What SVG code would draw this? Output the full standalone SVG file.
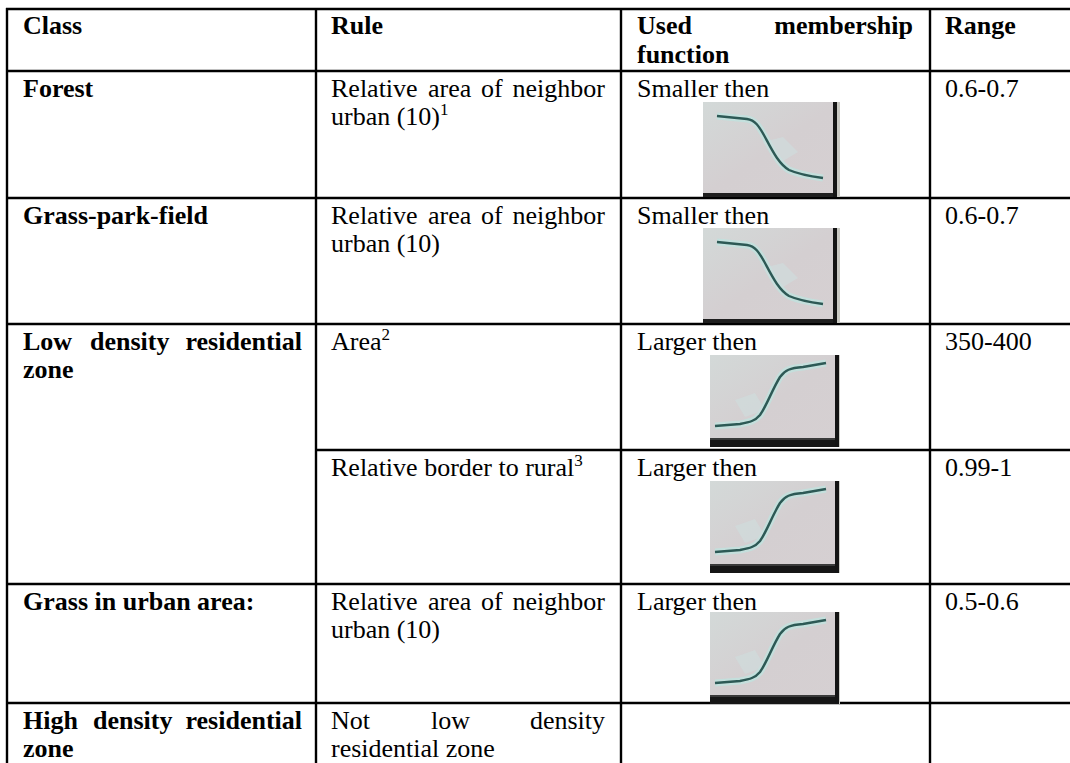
<svg xmlns="http://www.w3.org/2000/svg" xmlns:xlink="http://www.w3.org/1999/xlink" width="1070" height="763" viewBox="0 0 1070 763">
<style>
text{font-family:'Liberation Serif',serif;font-size:26px;fill:#000}
.b{font-weight:bold}
.sup{font-size:17px}
.grid line{stroke:#000;stroke-width:2.4}
.curve{fill:none;stroke:#2d5955;stroke-width:2.4;stroke-linejoin:round}
.glow{fill:none;stroke:#bfe2de;stroke-width:7;opacity:.8}
</style>
<defs>
<linearGradient id="bg" x1="0" y1="0" x2="1" y2="1">
<stop offset="0" stop-color="#d3d9d8"/>
<stop offset="0.5" stop-color="#d4cfd1"/>
<stop offset="1" stop-color="#d6d0d2"/>
</linearGradient>
<symbol id="mfSmaller" viewBox="0 0 137 95" width="137" height="95">
<rect width="137" height="95" fill="url(#bg)"/>
<path class="glow" d="M14,14 L44,17 C52,18 56,24 62,35 C70,50 76,62 86,68 C95,72 105,74 120,76"/>
<path d="M60,40 L80,35 L95,50 L75,62 Z" fill="#cfdede" opacity=".6"/>
<path class="curve" d="M14,14 L44,17 C52,18 56,24 62,35 C70,50 76,62 86,68 C95,72 105,74 120,76"/>
<rect x="0" y="91" width="131" height="4" fill="#1f1f1f"/>
<rect x="130" y="0" width="4" height="95" fill="#151515"/>
<rect x="134" y="0" width="3" height="95" fill="#c9c9c3"/>
</symbol>
<symbol id="mfLarger" viewBox="0 0 130 92" width="130" height="92">
<rect width="130" height="92" fill="url(#bg)"/>
<path class="glow" d="M5,71 L30,69 C40,67 45,66 50,60 C57,50 62,35 70,22 C75,15 80,13 93,12 L116,8"/>
<path d="M25,45 L45,38 L55,55 L35,62 Z" fill="#cfdede" opacity=".6"/>
<path class="curve" d="M5,71 L30,69 C40,67 45,66 50,60 C57,50 62,35 70,22 C75,15 80,13 93,12 L116,8"/>
<rect x="0" y="83" width="126" height="9" fill="#161616"/>
<rect x="0" y="83" width="126" height="2" fill="#3a3a3a"/>
<rect x="125" y="0" width="4" height="92" fill="#141414"/>
<rect x="129" y="0" width="1" height="92" fill="#cfcfca"/>
</symbol>
</defs>
<rect width="1070" height="763" fill="#fff"/>

<g id="grid" class="grid">
<line x1="6" y1="9" x2="1070" y2="9"/>
<line x1="7" y1="8" x2="7" y2="763"/>
<line x1="316" y1="8" x2="316" y2="763"/>
<line x1="621" y1="8" x2="621" y2="763"/>
<line x1="930" y1="8" x2="930" y2="763"/>
<line x1="6" y1="71" x2="1070" y2="71"/>
<line x1="6" y1="198" x2="1070" y2="198"/>
<line x1="6" y1="324" x2="1070" y2="324"/>
<line x1="316" y1="450" x2="1070" y2="450"/>
<line x1="6" y1="584" x2="1070" y2="584"/>
<line x1="6" y1="703" x2="1070" y2="703"/>
</g>

<g font-family="Liberation Serif, serif" font-size="26" fill="#000">
<g id="header">
<text class="b" x="23" y="34">Class</text>
<text class="b" x="331" y="34">Rule</text>
<text class="b" x="637" y="34">Used</text>
<text class="b" x="913" y="34" text-anchor="end">membership</text>
<text class="b" x="637" y="63">function</text>
<text class="b" x="945" y="34">Range</text>
</g>

<g id="row-forest">
<text class="b" x="23" y="97">Forest</text>
<text y="97"><tspan x="331">Relative</tspan><tspan x="428">area</tspan><tspan x="481">of</tspan></text>
<text x="605" y="97" text-anchor="end">neighbor</text>
<text x="331" y="125">urban (10)<tspan class="sup" dy="-10">1</tspan></text>
<text x="637" y="97">Smaller then</text>
<use xlink:href="#mfSmaller" x="703" y="102"/>
<text x="945" y="97">0.6-0.7</text>
</g>

<g id="row-grass-park-field">
<text class="b" x="23" y="224">Grass-park-field</text>
<text y="224"><tspan x="331">Relative</tspan><tspan x="428">area</tspan><tspan x="481">of</tspan></text>
<text x="605" y="224" text-anchor="end">neighbor</text>
<text x="331" y="252">urban (10)</text>
<text x="637" y="224">Smaller then</text>
<use xlink:href="#mfSmaller" x="703" y="228"/>
<text x="945" y="224">0.6-0.7</text>
</g>

<g id="row-low-density">
<text class="b" y="350"><tspan x="23">Low</tspan><tspan x="90">density</tspan></text>
<text class="b" x="302" y="350" text-anchor="end">residential</text>
<text class="b" x="23" y="378">zone</text>
<g id="rule-area">
<text x="331" y="350">Area<tspan class="sup" dy="-10">2</tspan></text>
<text x="637" y="350">Larger then</text>
<use xlink:href="#mfLarger" x="710" y="355"/>
<text x="945" y="350">350-400</text>
</g>
<g id="rule-border">
<text x="331" y="476">Relative border to rural<tspan class="sup" dy="-10">3</tspan></text>
<text x="637" y="476">Larger then</text>
<use xlink:href="#mfLarger" x="710" y="481"/>
<text x="945" y="476">0.99-1</text>
</g>
</g>

<g id="row-grass-urban">
<text class="b" x="23" y="610">Grass in urban area:</text>
<text y="610"><tspan x="331">Relative</tspan><tspan x="428">area</tspan><tspan x="481">of</tspan></text>
<text x="605" y="610" text-anchor="end">neighbor</text>
<text x="331" y="638">urban (10)</text>
<text x="637" y="610">Larger then</text>
<use xlink:href="#mfLarger" x="710" y="612"/>
<text x="945" y="610">0.5-0.6</text>
</g>

<g id="row-high-density">
<text class="b" y="729"><tspan x="23">High</tspan><tspan x="93">density</tspan></text>
<text class="b" x="302" y="729" text-anchor="end">residential</text>
<text class="b" x="23" y="757">zone</text>
<text y="729"><tspan x="331">Not</tspan><tspan x="431">low</tspan></text>
<text x="605" y="729" text-anchor="end">density</text>
<text x="331" y="757">residential zone</text>
</g>
</g>
</svg>
